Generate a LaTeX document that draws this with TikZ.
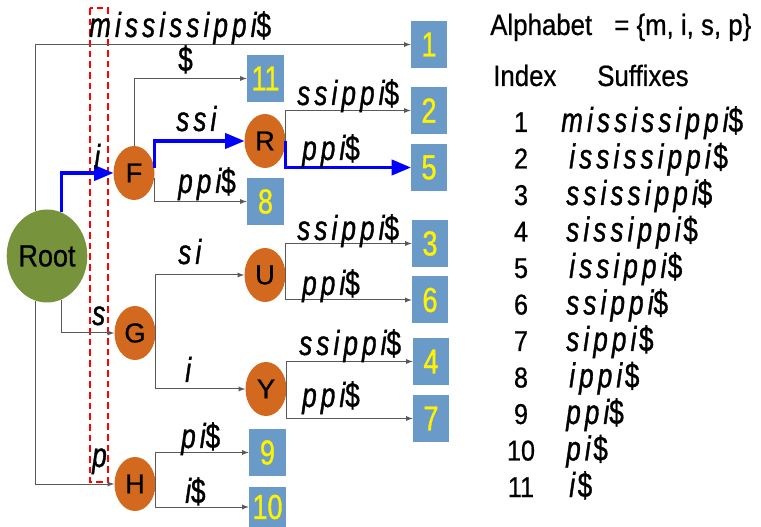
\documentclass[tikz,border=0pt]{standalone}
\usepackage{fontspec}
\setmainfont{Liberation Sans}
\newfontfamily\nodefont[FakeBold=0.7]{Liberation Sans}
\newfontfamily\narrowfont[FakeStretch=0.88,FakeBold=0.7]{Liberation Sans}
\newfontfamily\digitfont[FakeStretch=0.78,FakeBold=0.9]{Liberation Sans}
\newfontfamily\suffont[FakeStretch=0.75,LetterSpace=12,FakeBold=1]{Liberation Sans}
\usetikzlibrary{arrows}
\usetikzlibrary{positioning}
\usetikzlibrary{shapes.geometric}
\definecolor{rootgreen}{RGB}{119,147,60}
\definecolor{nodeorange}{RGB}{210,105,30}
\definecolor{leafblue}{RGB}{106,155,200}
\definecolor{edgegray}{RGB}{89,89,89}
\newcommand{\dol}{{\upshape\$}}
\tikzset{rootnode/.style = {ellipse, fill = rootgreen, minimum width = 58.5pt, minimum height = 69.75pt, inner sep = 0, font = \narrowfont\fontsize{23}{23}\selectfont}}
\tikzset{branch/.style = {ellipse, fill = nodeorange, minimum width = 30.75pt, minimum height = 40.5pt, inner sep = 0, font = \nodefont\fontsize{20.5}{20.5}\selectfont}}
\tikzset{leaf/.style = {fill = leafblue, text = yellow, minimum width = 27pt, minimum height = 35.25pt, inner sep = 0, font = \digitfont\fontsize{26}{26}\selectfont}}
\tikzset{link/.style = {edgegray, line width = 0.75pt, -latex}}
\tikzset{hot/.style = {blue, line width = 2.4pt, -triangle 45}}
\tikzset{lbl/.style = {anchor = base west, inner sep = 0, font = \suffont\itshape\fontsize{26}{26}\selectfont}}
\tikzset{head/.style = {anchor = base west, inner sep = 0, font = \narrowfont\fontsize{22}{22}\selectfont}}
\tikzset{idx/.style = {anchor = base, inner sep = 0, font = \narrowfont\fontsize{21.5}{21.5}\selectfont}}

\begin{document}
\begin{tikzpicture}[x = 0.75pt, y = -0.75pt]

    \useasboundingbox (0, 0) rectangle (761, 527);

    % prefix window
    \draw [red, line width = 1.1pt, dash pattern = on 5pt off 3pt] (90, 8) rectangle (108, 482);

    \node [rootnode] (root) at (47, 256) {Root};
    \node [branch] (F) at (134, 173) {F};
    \node [branch] (R) at (265, 141) {R};
    \node [branch] (G) at (135, 333) {G};
    \node [branch] (U) at (265, 275) {U};
    \node [branch] (Y) at (266, 389) {Y};
    \node [branch] (H) at (135, 484) {H};

    \node [leaf] (l1) at (429, 44.5) {1};
    \node [leaf, minimum width = 27.75pt] (l11) at (265.5, 78.5) {11};
    \node [leaf] (l2) at (429, 110.5) {2};
    \node [leaf] (l5) at (429, 167.5) {5};
    \node [leaf, minimum width = 27.75pt] (l8) at (265.5, 201.5) {8};
    \node [leaf] (l3) at (430, 243.5) {3};
    \node [leaf] (l6) at (430, 300) {6};
    \node [leaf] (l4) at (431, 361.5) {4};
    \node [leaf] (l7) at (431, 418.5) {7};
    \node [leaf, minimum width = 27.75pt] (l9) at (267.5, 452.5) {9};
    \node [leaf, minimum width = 27.75pt, minimum height = 30pt] (l10) at (267.5, 507) {10};

    \draw [link] (root.104) |- (l1.west);
    \draw [hot] (root.72) |- (F.west);
    \draw [link] (root.-72) |- (G.west);
    \draw [link] (root.-104) |- (H.west);
    \draw [link] (F.north) |- (l11.west);
    \draw [hot] (F.15) |- (R.west);
    \draw [link] (F.-15) |- (l8.west);
    \draw [link] (R.east) |- (l2.west);
    \draw [hot] (R.east) |- (l5.west);
    \draw [link] (G.east) |- (U.west);
    \draw [link] (G.east) |- (Y.west);
    \draw [link] (U.east) |- (l3.west);
    \draw [link] (U.east) |- (l6.west);
    \draw [link] (Y.east) |- (l4.west);
    \draw [link] (Y.east) |- (l7.west);
    \draw [link] (H.east) |- (l9.west);
    \draw [link] (H.east) |- (l10.west);

    % edge labels
    \node [lbl] (e1) at (89, 37) {mississippi\dol};
    \node [lbl] (eF) at (94, 169) {i};
    \node [lbl] (eG) at (92, 325) {s};
    \node [lbl] (eH) at (92, 467) {p};
    \node [lbl] (e11) at (178, 71) {\dol};
    \node [lbl] (eR) at (176, 131) {ssi};
    \node [lbl] (e8) at (178, 193) {ppi\dol};
    \node [lbl] (e2) at (297, 105) {ssippi\dol};
    \node [lbl] (e5) at (302, 160) {ppi\dol};
    \node [lbl] (eU) at (178, 264) {si};
    \node [lbl] (e3) at (297, 240) {ssippi\dol};
    \node [lbl] (e6) at (302, 295) {ppi\dol};
    \node [lbl] (eY) at (185, 382) {i};
    \node [lbl] (e4) at (299, 355) {ssippi\dol};
    \node [lbl] (e7) at (302, 407) {ppi\dol};
    \node [lbl] (e9) at (181, 448) {pi\dol};
    \node [lbl] (e10) at (185, 503) {i\dol};

    % suffix table
    \node [head] (alpha) at (490, 35) {Alphabet};
    \node [head] (set) at (614, 35) {= \{m, i, s, p\}};
    \node [head] (index) at (493, 86) {Index};
    \node [head] (suffixes) at (597, 86) {Suffixes};

    \node [idx] (n1) at (521, 132) {1};
    \node [idx] (n2) at (521, 168.5) {2};
    \node [idx] (n3) at (521, 205) {3};
    \node [idx] (n4) at (521, 241.5) {4};
    \node [idx] (n5) at (521, 278) {5};
    \node [idx] (n6) at (521, 314.5) {6};
    \node [idx] (n7) at (521, 351) {7};
    \node [idx] (n8) at (521, 387.5) {8};
    \node [idx] (n9) at (521, 424) {9};
    \node [idx] (n10) at (521, 460.5) {10};
    \node [idx] (n11) at (521, 497) {11};

    \node [lbl] (s1) at (561, 132) {mississippi\dol};
    \node [lbl] (s2) at (569, 168.5) {ississippi\hspace{2pt}\dol};
    \node [lbl] (s3) at (566, 205) {ssissippi\dol};
    \node [lbl] (s4) at (566, 241.5) {sissippi\hspace{2pt}\dol};
    \node [lbl] (s5) at (569, 278) {issippi\hspace{1pt}\dol};
    \node [lbl] (s6) at (566, 314.5) {ssippi\dol};
    \node [lbl] (s7) at (566, 351) {sippi\hspace{2pt}\dol};
    \node [lbl] (s8) at (569, 387.5) {ippi\hspace{2pt}\dol};
    \node [lbl] (s9) at (566, 424) {ppi\dol};
    \node [lbl] (s10) at (566, 460.5) {pi\hspace{2pt}\dol};
    \node [lbl] (s11) at (569, 497) {i\hspace{2pt}\dol};

  \end{tikzpicture}
\end{document}
